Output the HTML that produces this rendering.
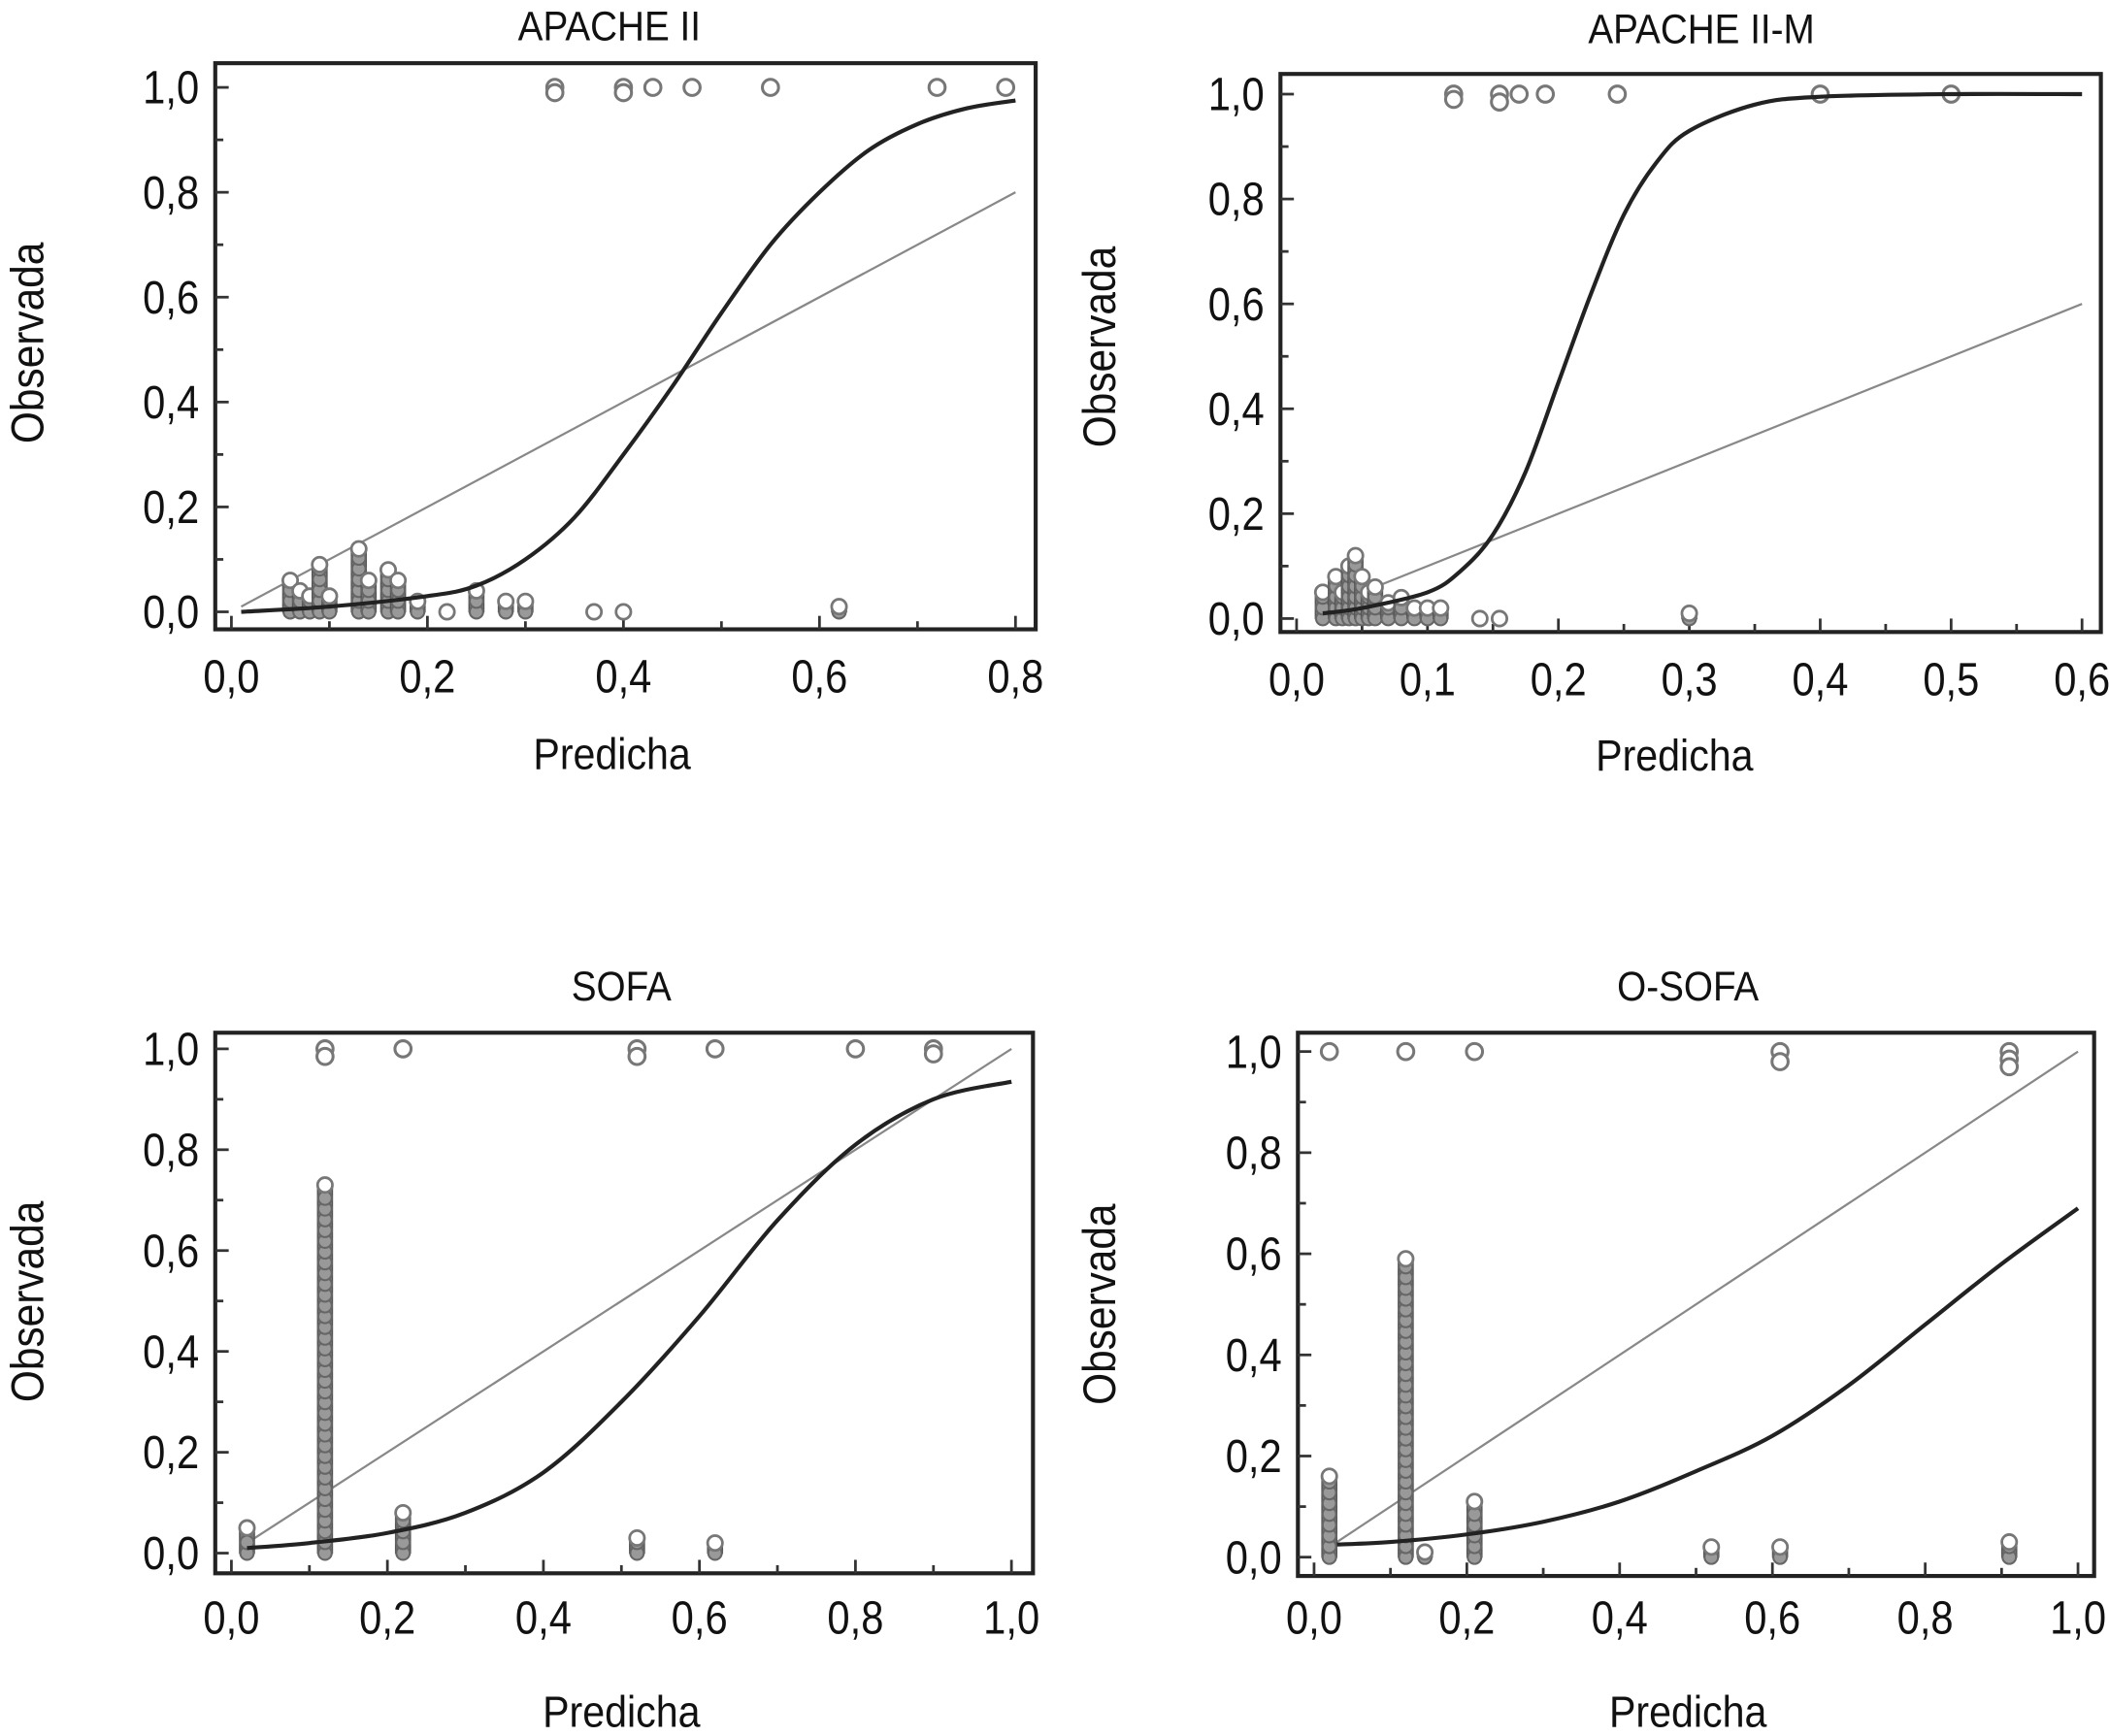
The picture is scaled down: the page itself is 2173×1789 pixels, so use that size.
<!DOCTYPE html>
<html><head><meta charset="utf-8"><style>
html,body{margin:0;padding:0;background:#fff;}
svg{display:block;font-family:"Liberation Sans",Arial,sans-serif;}
</style></head><body>
<svg id="fig" width="2173" height="1789" viewBox="0 0 1568 1291" xmlns="http://www.w3.org/2000/svg"></svg>
<script>
// ---- APACHE II ----
const apTop = [0.33,0.33,0.40,0.40,0.43,0.47,0.55,0.72,0.79];
const apTopY = [1.0,0.99,1.0,0.99,1.0,1.0,1.0,1.0,1.0];
const apBarX = [0.06,0.07,0.08,0.09,0.10,0.13,0.14,0.16,0.17,0.19,0.22,0.25,0.28,0.30,0.37,0.40,0.62];
const apBarH = [0.06,0.04,0.03,0.09,0.03,0.12,0.06,0.08,0.06,0.02,0.0,0.04,0.02,0.02,0.0,0.0,0.01];
const apCurveX = [0.01,0.1,0.2,0.25,0.3,0.35,0.4,0.45,0.5,0.55,0.6,0.65,0.7,0.75,0.8];
const apCurveY = [0.0,0.01,0.03,0.05,0.1,0.18,0.3,0.43,0.57,0.7,0.8,0.88,0.93,0.96,0.975];
const apXTicks = ["0,0","0,2","0,4","0,6","0,8"];
// ---- APACHE II-M ----
const amTop = [0.12,0.12,0.155,0.155,0.17,0.19,0.245,0.40,0.50];
const amTopY = [1.0,0.99,1.0,0.985,1.0,1.0,1.0,1.0,1.0];
const amBarX = [0.02,0.03,0.035,0.04,0.045,0.05,0.055,0.06,0.07,0.08,0.09,0.10,0.11,0.14,0.155,0.30];
const amBarH = [0.05,0.08,0.05,0.10,0.12,0.08,0.05,0.06,0.03,0.04,0.02,0.02,0.02,0.0,0.0,0.01];
const amCurveX = [0.02,0.05,0.1,0.125,0.15,0.175,0.2,0.225,0.25,0.275,0.3,0.35,0.4,0.5,0.6];
const amCurveY = [0.01,0.02,0.05,0.09,0.16,0.28,0.45,0.62,0.77,0.87,0.93,0.98,0.995,1.0,1.0];
const amXTicks = ["0,0","0,1","0,2","0,3","0,4","0,5","0,6"];
// ---- SOFA ----
const sfTop = [0.12,0.12,0.22,0.52,0.52,0.62,0.80,0.90,0.90];
const sfTopY = [1.0,0.985,1.0,1.0,0.985,1.0,1.0,1.0,0.99];
const sfBarX = [0.02,0.12,0.22,0.52,0.62];
const sfBarH = [0.05,0.73,0.08,0.03,0.02];
const sfCurveX = [0.02,0.1,0.2,0.3,0.4,0.5,0.6,0.7,0.8,0.9,1.0];
const sfCurveY = [0.01,0.02,0.04,0.08,0.16,0.3,0.47,0.66,0.81,0.9,0.935];
const sfXTicks = ["0,0","0,2","0,4","0,6","0,8","1,0"];
// ---- O-SOFA ----
const osTop = [0.02,0.12,0.21,0.61,0.61,0.91,0.91,0.91];
const osTopY = [1.0,1.0,1.0,1.0,0.98,1.0,0.985,0.97];
const osBarX = [0.02,0.12,0.145,0.21,0.52,0.61,0.91];
const osBarH = [0.16,0.59,0.01,0.11,0.02,0.02,0.03];
const osCurveX = [0.03,0.1,0.2,0.3,0.4,0.5,0.6,0.7,0.8,0.9,1.0];
const osCurveY = [0.025,0.03,0.045,0.07,0.11,0.17,0.24,0.34,0.46,0.58,0.69];
const osXTicks = ["0,0","0,2","0,4","0,6","0,8","1,0"];
const yTicks = ["0,0","0,2","0,4","0,6","0,8","1,0"];

const NS="http://www.w3.org/2000/svg";
const svg=document.getElementById('fig');
function mk(tag,attrs,parent){const e=document.createElementNS(NS,tag);for(const k in attrs)e.setAttribute(k,attrs[k]);(parent||svg).appendChild(e);return e;}

function panel(cfg){
  const g=mk('g',{});
  
  
  const sx=v=>cfg.x0+(v/cfg.xmax)*(cfg.x1-cfg.x0);
  const sy=v=>cfg.y0+v*(cfg.y1-cfg.y0);
  const t=mk('text',{x:0,y:0,'font-size':31,'text-anchor':'middle',fill:'#111',transform:`translate(${cfg.tx},${cfg.ty}) scale(0.9,1)`},g);t.textContent=cfg.title;
  
  
  const box=mk('rect',{x:cfg.bl,y:cfg.bt,width:cfg.br-cfg.bl,height:cfg.bb-cfg.bt,fill:'none',stroke:'#222','stroke-width':3},g);
  
  
  for(let i=0;i<=10;i++){const v=i/10;const y=sy(v);mk('line',{x1:cfg.bl,x2:cfg.bl+(i%2?6:10),y1:y,y2:y,stroke:'#333','stroke-width':2},g);}
  yTicks.forEach((lab,i)=>{const tl=mk('text',{x:0,y:0,'font-size':35,'text-anchor':'end',fill:'#111',transform:`translate(${cfg.bl-12},${sy(i*0.2)+12}) scale(0.86,1)`},g);tl.textContent=lab;
    
    });
  const n=cfg.xticks.length-1;
  for(let i=0;i<=2*n;i++){const v=cfg.xmax*i/(2*n);const x=sx(v);mk('line',{x1:x,x2:x,y1:cfg.bb,y2:cfg.bb-(i%2?6:10),stroke:'#333','stroke-width':2},g);}
  cfg.xticks.forEach((lab,i)=>{const tl=mk('text',{x:0,y:0,'font-size':35,'text-anchor':'middle',fill:'#111',transform:`translate(${sx(cfg.xmax*i/n)},${cfg.xly}) scale(0.86,1)`},g);tl.textContent=lab;
    
    });
  const xl=mk('text',{x:0,y:0,'font-size':33,'text-anchor':'middle',fill:'#111',transform:`translate(${cfg.xtx},${cfg.xty}) scale(0.9,1)`},g);xl.textContent='Predicha';
  
  
  const yl=mk('text',{x:0,y:0,'font-size':34,'text-anchor':'middle',fill:'#111',transform:`translate(${cfg.ytx},${cfg.yty}) rotate(-90) scale(0.9,1)`},g);yl.textContent='Observada';
  
  
  const d=mk('line',{x1:sx(cfg.d0),y1:sy(cfg.d0),x2:sx(cfg.xmax),y2:sy(cfg.xmax),stroke:'#888','stroke-width':1.6},g);
  
  
  cfg.barX.forEach((bx,i)=>{const x=sx(bx),yt=sy(cfg.barH[i]),yb=sy(0);
    const r=mk('rect',{x:x-5.5,y:yt,width:11,height:Math.max(0,yb-yt),fill:'#777',stroke:'#555','stroke-width':1},g);
    
    
    for(let yy=yb; yy>yt+3; yy-=8){const c=mk('circle',{cx:x,cy:yy,r:5,fill:'#999',stroke:'#666','stroke-width':1.5},g);
      
      }
    const c=mk('circle',{cx:x,cy:yt,r:5.5,fill:'#fff',stroke:'#777','stroke-width':2},g);
    
    
  });
  cfg.top.forEach((tx,i)=>{const c=mk('circle',{cx:sx(tx),cy:sy(cfg.topY[i]),r:6,fill:'#fff',stroke:'#777','stroke-width':2.2},g);
    
    });
  const P=cfg.cx.map((v,i)=>[sx(v),sy(cfg.cy[i])]);
  let dd=`M${P[0][0]},${P[0][1]}`;
  for(let i=0;i<P.length-1;i++){const p0=P[Math.max(0,i-1)],p1=P[i],p2=P[i+1],p3=P[Math.min(P.length-1,i+2)];
    dd+=` C${p1[0]+(p2[0]-p0[0])/6},${p1[1]+(p2[1]-p0[1])/6} ${p2[0]-(p3[0]-p1[0])/6},${p2[1]-(p3[1]-p1[1])/6} ${p2[0]},${p2[1]}`;}
  const c=mk('path',{d:dd,fill:'none',stroke:'#222','stroke-width':3},g);
  
  
}

panel({name:'apache-ii',title:'APACHE II',tx:453,ty:30,bl:160,br:770,bt:47,bb:468,x0:172,x1:755,xmax:0.8,y0:455,y1:65,
  xticks:apXTicks,xly:515,xtx:455,xty:572,ytx:32,yty:255,d0:0.01,top:apTop,topY:apTopY,barX:apBarX,barH:apBarH,cx:apCurveX,cy:apCurveY});
panel({name:'apache-ii-m',title:'APACHE II-M',tx:1265,ty:32,bl:952,br:1562,bt:55,bb:470,x0:964,x1:1548,xmax:0.6,y0:460,y1:70,
  xticks:amXTicks,xly:517,xtx:1245,xty:573,ytx:829,yty:258,d0:0.02,top:amTop,topY:amTopY,barX:amBarX,barH:amBarH,cx:amCurveX,cy:amCurveY});
panel({name:'sofa',title:'SOFA',tx:462,ty:744,bl:160,br:768,bt:768,bb:1170,x0:172,x1:752,xmax:1.0,y0:1155,y1:780,
  xticks:sfXTicks,xly:1215,xtx:462,xty:1284,ytx:32,yty:968,d0:0.02,top:sfTop,topY:sfTopY,barX:sfBarX,barH:sfBarH,cx:sfCurveX,cy:sfCurveY});
panel({name:'o-sofa',title:'O-SOFA',tx:1255,ty:744,bl:965,br:1557,bt:768,bb:1172,x0:977,x1:1545,xmax:1.0,y0:1158,y1:782,
  xticks:osXTicks,xly:1215,xtx:1255,xty:1284,ytx:829,yty:970,d0:0.03,top:osTop,topY:osTopY,barX:osBarX,barH:osBarH,cx:osCurveX,cy:osCurveY});
</script>
</body></html>
